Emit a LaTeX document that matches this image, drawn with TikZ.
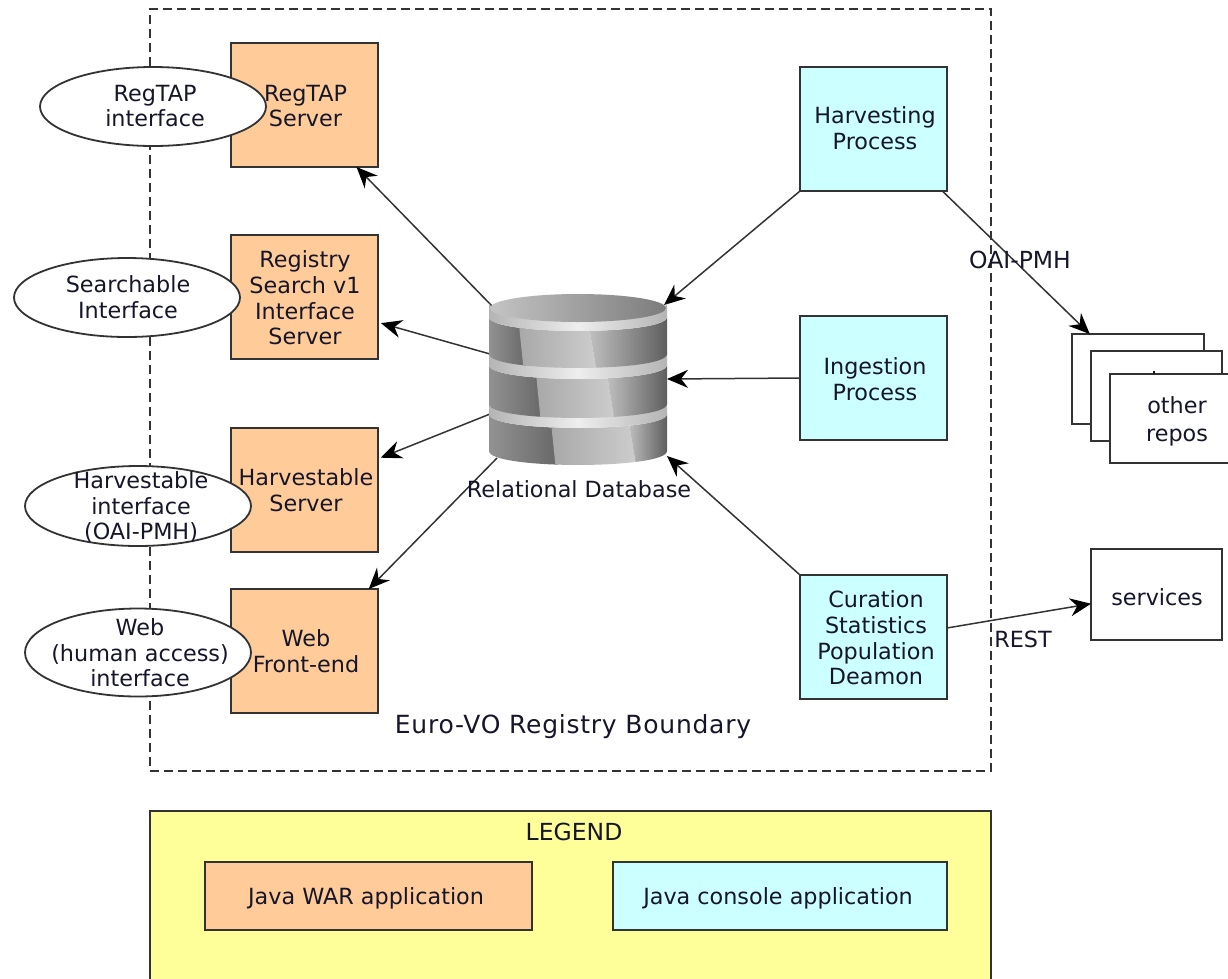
\documentclass[tikz,border=0pt]{standalone}
\usepackage{fontspec}
\setmainfont{DejaVu Sans}
\usetikzlibrary{arrows.meta,shapes.geometric}
\definecolor{warbox}{HTML}{FFCC99}
\definecolor{conbox}{HTML}{CCFFFF}
\definecolor{legendbg}{HTML}{FFFF99}
\definecolor{ink}{HTML}{333333}
\definecolor{txt}{HTML}{16162A}
\definecolor{zoneA}{HTML}{929292}
\definecolor{zoneB}{HTML}{686868}
\definecolor{zoneC}{HTML}{A8A8A8}
\definecolor{zoneD}{HTML}{CDCDCD}
\definecolor{zoneE}{HTML}{C2C2C2}
\definecolor{zoneF}{HTML}{5E5E5E}
\definecolor{rimS}{HTML}{B4B4B4}
\definecolor{rimM}{HTML}{EEEEEE}
\definecolor{capL}{HTML}{C4C4C4}
\definecolor{capR}{HTML}{7C7C7C}
\tikzset{
  txtstyle/.style={text=txt,font=\fontsize{22.3}{25.6}\selectfont,align=center,inner sep=0pt,outer sep=0pt},
  plainbox/.style={draw=ink,line width=1.9pt,inner sep=0pt,outer sep=0pt,anchor=center},
  warstyle/.style={plainbox,fill=warbox,minimum width=147pt,minimum height=124pt},
  constyle/.style={plainbox,fill=conbox,minimum width=147pt,minimum height=124pt},
  repostyle/.style={plainbox,fill=white,minimum width=131pt,minimum height=90pt},
  ifstyle/.style={ellipse,draw=ink,fill=white,line width=1.8pt,inner sep=0pt,outer sep=0pt,minimum width=226pt},
  conn/.style={draw=ink,line width=1.5pt,-{Stealth[length=21pt,width=18pt,inset=7pt,fill=black,color=black]}}
}
% one stacked ring of the database: rim top, rim bottom, body bottom (left-edge y), then two x positions of the sheen
\newcommand{\dbseg}[5]{%
  \begin{scope}
    \clip (489,#2) .. controls (489,#2+18.6) and (667,#2+18.6) .. (667,#2)
      -- (667,#3) .. controls (667,#3+18.6) and (489,#3+18.6) .. (489,#3) -- cycle;
    \shade[left color=zoneA,right color=zoneB] (489,#2-2) rectangle (#4+8,#3+20);
    \shade[left color=zoneC,right color=zoneD]
      (#4,#2-2) -- (#5,#2-2) -- (#5+10,#3+20) -- (#4+6,#3+20) -- cycle;
    \shade[left color=zoneE,right color=zoneF]
      (#5,#2-2) -- (667,#2-2) -- (667,#3+20) -- (#5+10,#3+20) -- cycle;
  \end{scope}
  \shade[left color=rimS,right color=rimS,middle color=rimM]
    (489,#1-5) .. controls (489,#1+13.6) and (667,#1+13.6) .. (667,#1-5)
    -- (667,#2) .. controls (667,#2+18.6) and (489,#2+18.6) .. (489,#2) -- cycle;
}
\begin{document}
\begin{tikzpicture}[x=1pt,y=-1pt]
\useasboundingbox (0,0) rectangle (1228,978);
\fill[white] (0,0) rectangle (1228,978);

% boundary and legend
\node[draw=ink,line width=1.7pt,dash pattern=on 9pt off 5pt,minimum width=841pt,minimum height=762pt,inner sep=0pt,outer sep=0pt] (boundary) at (570.5,390) {};
\node[plainbox,fill=legendbg,minimum width=841pt,minimum height=190pt] (legend) at (570.5,906) {};

% positions of the main nodes
\node[warstyle] (regtap) at (304.5,105) {};
\node[warstyle] (search) at (304.5,297) {};
\node[warstyle] (harvsrv) at (304.5,490) {};
\node[warstyle] (web) at (304.5,651) {};
\node[constyle] (harvest) at (873.5,129) {};
\node[constyle] (ingest) at (873.5,378) {};
\node[constyle] (curation) at (873.5,637) {};
\node[minimum width=178pt,minimum height=172pt,inner sep=0pt,outer sep=0pt] (db) at (578,380) {};
\coordinate (dbA) at (493,307);
\coordinate (dbB) at (490,354);
\coordinate (dbC) at (490,414);
\coordinate (dbD) at (497,458);
\coordinate (dbE) at (664,305);
\coordinate (dbF) at (667,379);
\coordinate (dbG) at (667,456);
\node[repostyle,minimum width=132pt] (repoA) at (1138,379) {};
\node[repostyle] (repoB) at (1156.5,396) {};
\node[repostyle,minimum height=89pt] (repoC) at (1175.5,418.5) {};
\node[plainbox,fill=white,minimum width=131pt,minimum height=91pt] (services) at (1156.5,594.5) {};
\draw[txt,line width=1.2pt] (1154,371) -- (1154,374);

% connectors
\draw[conn] (dbA) -- (regtap.-50);
\draw[conn,shorten >=3pt] (dbB) -- (search.-19);
\draw[conn,shorten >=3pt] (dbC) -- (harvsrv.23);
\draw[conn] (dbD) -- (web.44);
\draw[conn] (harvest.south west) -- (dbE);
\draw[conn] (ingest.west) -- (dbF);
\draw[conn] (curation.north west) -- (dbG);
\draw[conn] (harvest.-42.3) -- (repoA.137);
\draw[conn] (curation.7.4) -- (services.188.25);

% database
\dbseg{406}{414}{451}{550}{627}
\dbseg{356}{365}{404}{535}{605}
\dbseg{308}{317}{354}{518}{587}
\shade[left color=capL,right color=capR] (578,308) ellipse[x radius=88,y radius=14];

% interface ellipses
\node[ifstyle,minimum height=79pt] (ifreg) at (153,106.5) {};
\node[ifstyle,minimum height=79pt] (ifsearch) at (127,297.5) {};
\node[ifstyle,minimum height=80pt] (ifharv) at (138,506) {};
\node[ifstyle,minimum height=88pt] (ifweb) at (138,652.5) {};

% legend boxes
\node[plainbox,fill=warbox,minimum width=327pt,minimum height=68pt] (legwar) at (368.5,896) {};
\node[plainbox,fill=conbox,minimum width=334pt,minimum height=68pt] (legcon) at (780,896) {};
\node[txtstyle] (tWar) at (366,898) {Java WAR application};
\node[txtstyle] (tCon) at (778,898) {Java console application};

% texts
\node[txtstyle] (tRegSrv) at (305.5,106) {RegTAP\\Server};
\node[txtstyle] (tSearch) at (305,298) {Registry\\Search v1\\Interface\\Server};
\node[txtstyle] (tHarvSrv) at (306,490) {Harvestable\\Server};
\node[txtstyle] (tWeb) at (306,651) {Web\\Front-end};
\node[txtstyle] (tHarvest) at (875,128) {Harvesting\\Process};
\node[txtstyle] (tIngest) at (875,379) {Ingestion\\Process};
\node[txtstyle] (tCur) at (876,638) {Curation\\Statistics\\Population\\Deamon};
\node[txtstyle] (tIfReg) at (155,106) {RegTAP\\interface};
\node[txtstyle] (tIfSearch) at (128,297) {Searchable\\Interface};
\node[txtstyle] (tIfHarv) at (141,507) {Harvestable\\interface\\(OAI-PMH)};
\node[txtstyle] (tIfWeb) at (140,653) {Web\\(human access)\\interface};
\node[txtstyle] (tDb) at (579,489) {Relational Database};
\node[txtstyle,font=\fontsize{23.5}{26}\selectfont] (tOai) at (1020,260) {OAI-PMH};
\node[txtstyle] (tRest) at (1023,639) {REST};
\node[txtstyle] (tRepo) at (1177,421) {other\\[2.5pt]repos};
\node[txtstyle] (tSvc) at (1157,597) {services};
\node[txtstyle,font=\fontsize{25}{28}\selectfont\addfontfeature{LetterSpace=3}] (tBound) at (573,727) {Euro-VO Registry Boundary};
\node[txtstyle,font=\fontsize{23.5}{26}\selectfont] (tLegend) at (574,832) {LEGEND};
\end{tikzpicture}
\end{document}
